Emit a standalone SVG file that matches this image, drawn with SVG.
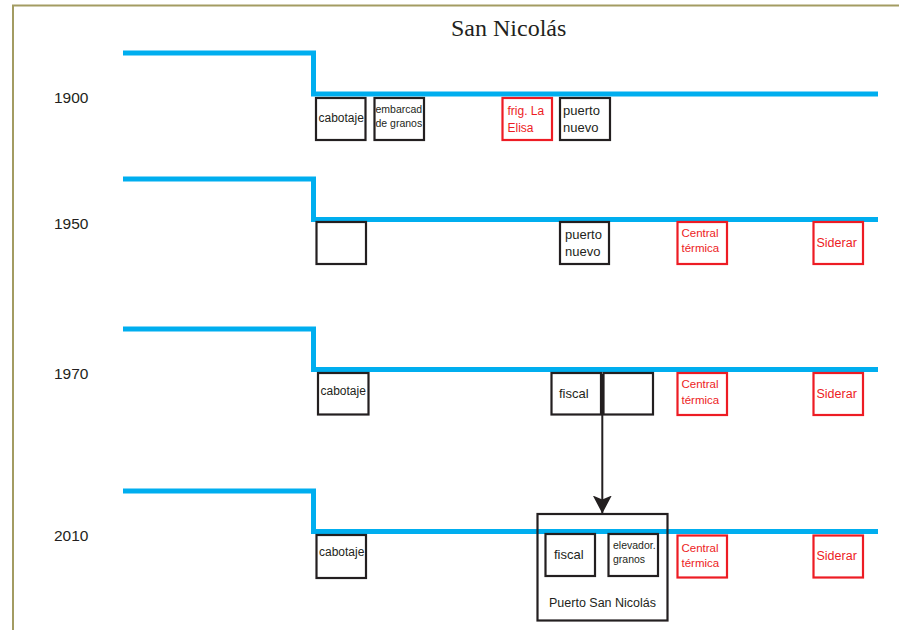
<svg xmlns="http://www.w3.org/2000/svg" width="899" height="630" viewBox="0 0 899 630">
<style>
.bg{fill:#ffffff}
.frame{stroke:#a39c62;stroke-width:2;fill:none}
.shore{stroke:#00aeef;stroke-width:5;fill:none}
.box{fill:none;stroke:#231f20;stroke-width:2.2}
.rbox{fill:none;stroke:#ed1c24;stroke-width:2.2}
.t{font-family:"Liberation Sans",Arial,sans-serif;fill:#231f20}
.r{font-family:"Liberation Sans",Arial,sans-serif;fill:#ed1c24}
.year{font-family:"Liberation Sans",Arial,sans-serif;font-size:15.5px;fill:#231f20}
.title{font-family:"Liberation Serif","Times New Roman",serif;font-size:24px;fill:#231f20}
.conn{stroke:#231f20;stroke-width:2;fill:none}
</style>
<defs>
<marker id="ah" markerUnits="userSpaceOnUse" markerWidth="20" markerHeight="20" refX="18" refY="9.5" orient="auto">
<path d="M0,0 L18,9.5 L0,19 L4,9.5 z" fill="#231f20"/>
</marker>
</defs>
<rect class="bg" x="0" y="0" width="899" height="630"/>
<path class="frame" d="M13,630 L13,5.5 L899,5.5"/>
<text class="title" x="451" y="36">San Nicolás</text>

<g id="shorelines">
<path class="shore" d="M123,53 L313.5,53 L313.5,94 L878,94"/>
<path class="shore" d="M123,179 L313.5,179 L313.5,219.5 L878,219.5"/>
<path class="shore" d="M123,329 L313.5,329 L313.5,369.5 L878,369.5"/>
<path class="shore" d="M123,491 L313.5,491 L313.5,531.5 L878,531.5"/>
</g>

<g id="years">
<text class="year" x="54" y="103">1900</text>
<text class="year" x="54" y="229">1950</text>
<text class="year" x="54" y="379">1970</text>
<text class="year" x="54" y="541">2010</text>
</g>

<g id="n1900-cabotaje"><rect class="box" x="316" y="98" width="49.5" height="42"/><text class="t" x="318.5" y="122" font-size="12">cabotaje</text></g>
<g id="n1900-embarcad"><rect class="box" x="374.5" y="98" width="49.5" height="42"/><text class="t" x="375.5" y="113" font-size="10.5">embarcad</text><text class="t" x="375.5" y="127" font-size="10.5">de granos</text></g>
<g id="n1900-frig"><rect class="rbox" x="502.5" y="98" width="49.5" height="42"/><text class="r" x="507.5" y="115" font-size="12">frig. La</text><text class="r" x="507.5" y="131.5" font-size="12">Elisa</text></g>
<g id="n1900-puerto"><rect class="box" x="560" y="98" width="50" height="42"/><text class="t" x="563" y="115" font-size="13">puerto</text><text class="t" x="563" y="131.5" font-size="13">nuevo</text></g>

<g id="n1950-empty"><rect class="box" x="316.5" y="222" width="49.5" height="42"/></g>
<g id="n1950-puerto"><rect class="box" x="560" y="222" width="49" height="42"/><text class="t" x="565" y="239" font-size="13">puerto</text><text class="t" x="565" y="255.5" font-size="13">nuevo</text></g>
<g id="n1950-central"><rect class="rbox" x="677.5" y="222" width="49.5" height="42"/><text class="r" x="681.5" y="237" font-size="11.5">Central</text><text class="r" x="681.5" y="252" font-size="11.5">térmica</text></g>
<g id="n1950-siderar"><rect class="rbox" x="813.5" y="222" width="49.5" height="42"/><text class="r" x="816.5" y="246.5" font-size="12.5">Siderar</text></g>

<g id="n1970-cabotaje"><rect class="box" x="318" y="373" width="50.5" height="41.5"/><text class="t" x="320.5" y="395" font-size="12">cabotaje</text></g>
<g id="n1970-fiscal"><rect class="box" x="551.5" y="373" width="49.5" height="41.5"/><text class="t" x="559" y="397.5" font-size="13">fiscal</text></g>
<g id="n1970-empty"><rect class="box" x="603.5" y="373" width="49.5" height="41.5"/></g>
<g id="n1970-central"><rect class="rbox" x="677.5" y="373" width="49.5" height="42"/><text class="r" x="681.5" y="388" font-size="11.5">Central</text><text class="r" x="681.5" y="403.5" font-size="11.5">térmica</text></g>
<g id="n1970-siderar"><rect class="rbox" x="813.5" y="373" width="49.5" height="42"/><text class="r" x="816.5" y="397.5" font-size="12.5">Siderar</text></g>

<g id="n2010-puerto-san-nicolas"><rect class="box" x="537.5" y="514" width="130" height="106.5"/><text class="t" x="549" y="607" font-size="12.5">Puerto San Nicolás</text></g>
<g id="n2010-fiscal"><rect class="box" x="545.5" y="534" width="49.5" height="42"/><text class="t" x="554" y="558.5" font-size="13">fiscal</text></g>
<g id="n2010-elevador"><rect class="box" x="608.5" y="534" width="49.5" height="42"/><text class="t" x="613" y="548.5" font-size="10.5">elevador.</text><text class="t" x="613" y="563" font-size="10.5">granos</text></g>
<g id="n2010-cabotaje"><rect class="box" x="316.5" y="535" width="49.5" height="43"/><text class="t" x="319" y="556" font-size="12">cabotaje</text></g>
<g id="n2010-central"><rect class="rbox" x="677.5" y="535.5" width="49.5" height="42"/><text class="r" x="681.5" y="551.5" font-size="11.5">Central</text><text class="r" x="681.5" y="567" font-size="11.5">térmica</text></g>
<g id="n2010-siderar"><rect class="rbox" x="813.5" y="535.5" width="49.5" height="42"/><text class="r" x="816.5" y="559.5" font-size="12.5">Siderar</text></g>

<g id="connectors">
<line class="conn" x1="602.3" y1="374" x2="602.3" y2="513.5" marker-end="url(#ah)"/>
</g>
</svg>
